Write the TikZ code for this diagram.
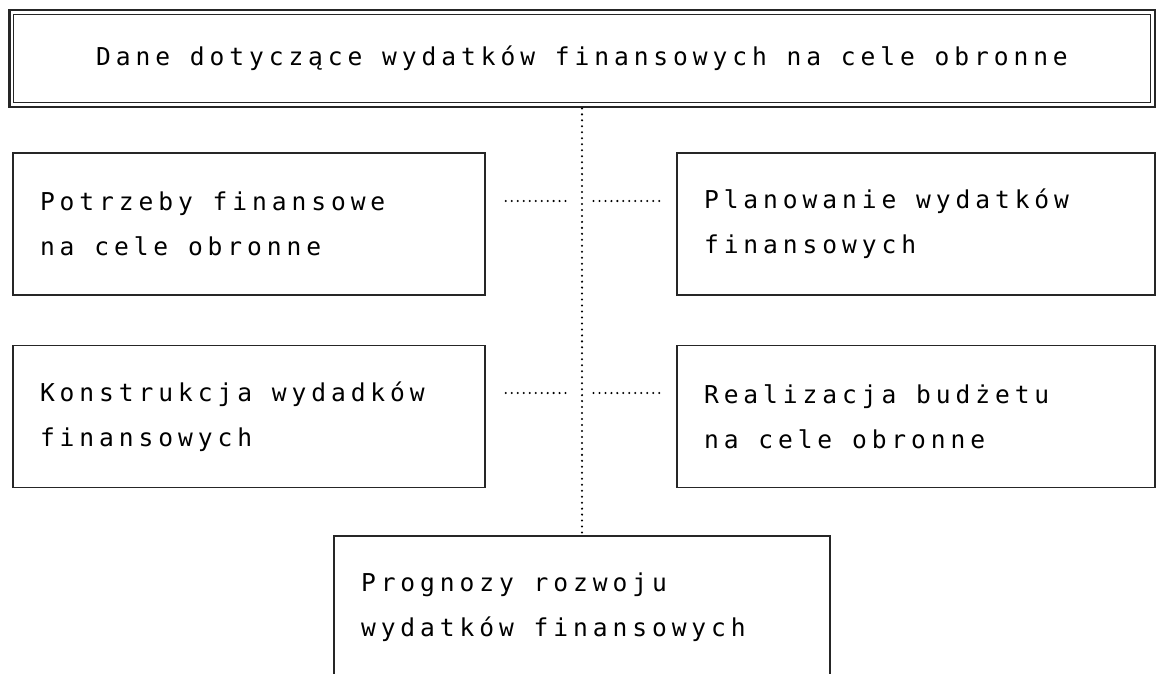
\documentclass[tikz,border=0pt]{standalone}
\usepackage{fontspec}
\newfontfamily\dotfont[LetterSpace=20]{DejaVu Sans Mono}
\usetikzlibrary{calc,positioning}

\begin{document}
\begin{tikzpicture}[x=0.02cm,y=-0.02cm,font=\dotfont\fontsize{14}{25.6}\selectfont]
  \tikzset{box/.style={draw=black!85,line width=1pt,inner ysep=0pt,inner xsep=0.54cm,minimum height=2.84cm,align=flush left}}
  \tikzset{headbox/.style={draw=black!85,line width=1.6pt,minimum width=22.92cm,minimum height=1.94cm}}
  \tikzset{link/.style={draw=black,line width=1.3pt,line cap=round,dash pattern=on 0pt off 3.4pt}}

  \useasboundingbox (0,0) rectangle (1158,673);
  \clip (0,0) rectangle (1158,673);

  % header box, double frame
  \node[headbox] (dane) at (582,58.5) {Dane dotyczące wydatków finansowych na cele obronne};
  \draw[black!85,line width=0.8pt] ([xshift=0.12cm,yshift=-0.12cm]dane.north west) rectangle ([xshift=-0.12cm,yshift=0.12cm]dane.south east);

  % rows
  \node[box,text width=8.36cm] (potrzeby) at (249,224) {Potrzeby finansowe\\na cele obronne};
  \node[box,text width=8.48cm] (planowanie) at (916,224) {Planowanie wydatków\\finansowych};
  \node[box,text width=8.36cm] (konstrukcja) at (249,416.5) {Konstrukcja wydadków\\finansowych};
  \node[box,text width=8.48cm] (realizacja) at (916,416.5) {Realizacja budżetu\\na cele obronne};
  \node[box,text width=8.84cm] (prognozy) at (582,607) {Prognozy rozwoju\\wydatków finansowych};

  % dotted links
  \draw[link] (dane.south) -- (prognozy.north);
  \coordinate (a1) at ([yshift=0.46cm]potrzeby.east);
  \coordinate (b1) at ([yshift=0.46cm]planowanie.west);
  \coordinate (a2) at ([yshift=0.47cm]konstrukcja.east);
  \coordinate (b2) at ([yshift=0.47cm]realizacja.west);
  \draw[link,shorten <=0.4cm,shorten >=0.22cm] (a1) -- (a1 -| dane.south);
  \draw[link,shorten <=0.34cm,shorten >=0.2cm] (b1) -- (b1 -| dane.south);
  \draw[link,shorten <=0.4cm,shorten >=0.22cm] (a2) -- (a2 -| dane.south);
  \draw[link,shorten <=0.34cm,shorten >=0.2cm] (b2) -- (b2 -| dane.south);
\end{tikzpicture}
\end{document}
